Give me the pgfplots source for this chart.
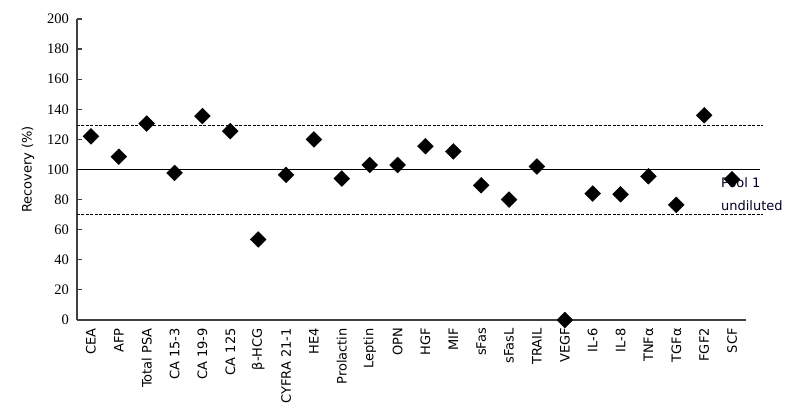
\documentclass[border=0pt]{standalone}
\usepackage{fontspec}
\setmainfont{DejaVu Sans}
\newfontfamily\numfont{Liberation Serif}
\usepackage{pgfplots}
\pgfplotsset{compat=1.18}
\definecolor{axgray}{HTML}{404040}
\begin{document}
\begin{tikzpicture}
\begin{axis}[
  scale only axis,
  width=669pt, height=301pt,
  xmin=-0.5, xmax=23.5,
  ymin=0, ymax=200,
  axis lines*=left,
  axis line style={axgray, line width=1.3pt},
  clip=false,
  ytick={0,20,...,200},
  tick align=inside,
  major tick length=5pt,
  minor tick length=5pt,
  every tick/.style={axgray, line width=1.2pt},
  xtick={0,...,23},
  xticklabels={CEA,AFP,Total PSA,CA 15-3,CA 19-9,CA 125,β-HCG,CYFRA 21-1,HE4,Prolactin,Leptin,OPN,HGF,MIF,sFas,sFasL,TRAIL,VEGF,IL-6,IL-8,TNFα,TGFα,FGF2,SCF},
  x tick style={draw=none},
  minor xtick={-0.5,0.5,...,23.5},
  minor x tick style={axgray, line width=1.2pt},
  xticklabel style={rotate=90, anchor=east, font=\fontsize{13}{13}\selectfont, inner sep=0pt, xshift=-8pt},
  yticklabel style={font=\numfont\fontsize{14.5}{14.5}\selectfont, inner sep=0pt, xshift=-8pt},
  /pgf/number format/assume math mode=true,
  ylabel={Recovery (\%)},
  ylabel style={at={(axis description cs:0,0.5)}, anchor=center, yshift=49pt, font=\fontsize{13}{13}\selectfont},
]
\addplot[black, line width=1pt, forget plot] coordinates {(-0.5,100) (24.0,100)};
\addplot[black, line width=1pt, dash pattern=on 3pt off 1.5pt, forget plot] coordinates {(-0.5,129.5) (24.1,129.5)};
\addplot[black, line width=1pt, dash pattern=on 3pt off 1.5pt, forget plot] coordinates {(-0.5,70) (24.1,70)};
\addplot[only marks, mark=square*, mark size=5.6pt, mark options={rotate=45, fill=black, draw=black}] coordinates {
(0,122) (1,108.5) (2,130.5) (3,97.7) (4,135.5) (5,125.5) (6,53.5) (7,96.5)
(8,120) (9,94) (10,103) (11,103) (12,115.5) (13,112) (14,89.5) (15,80)
(16,102) (17,0) (18,84) (19,83.5) (20,95.5) (21,76.5) (22,136) (23,93.5)
};
\node[anchor=west, inner sep=0pt, font=\fontsize{13}{13}\selectfont, text=black!85!blue] at (axis cs:22.6,91.5) {Pool 1};
\node[anchor=west, inner sep=0pt, font=\fontsize{13}{13}\selectfont, text=black!85!blue] at (axis cs:22.6,76.3) {undiluted};
\end{axis}
\path[use as bounding box] (-77pt,-100pt) rectangle (723pt,320pt);
\end{tikzpicture}
\end{document}
